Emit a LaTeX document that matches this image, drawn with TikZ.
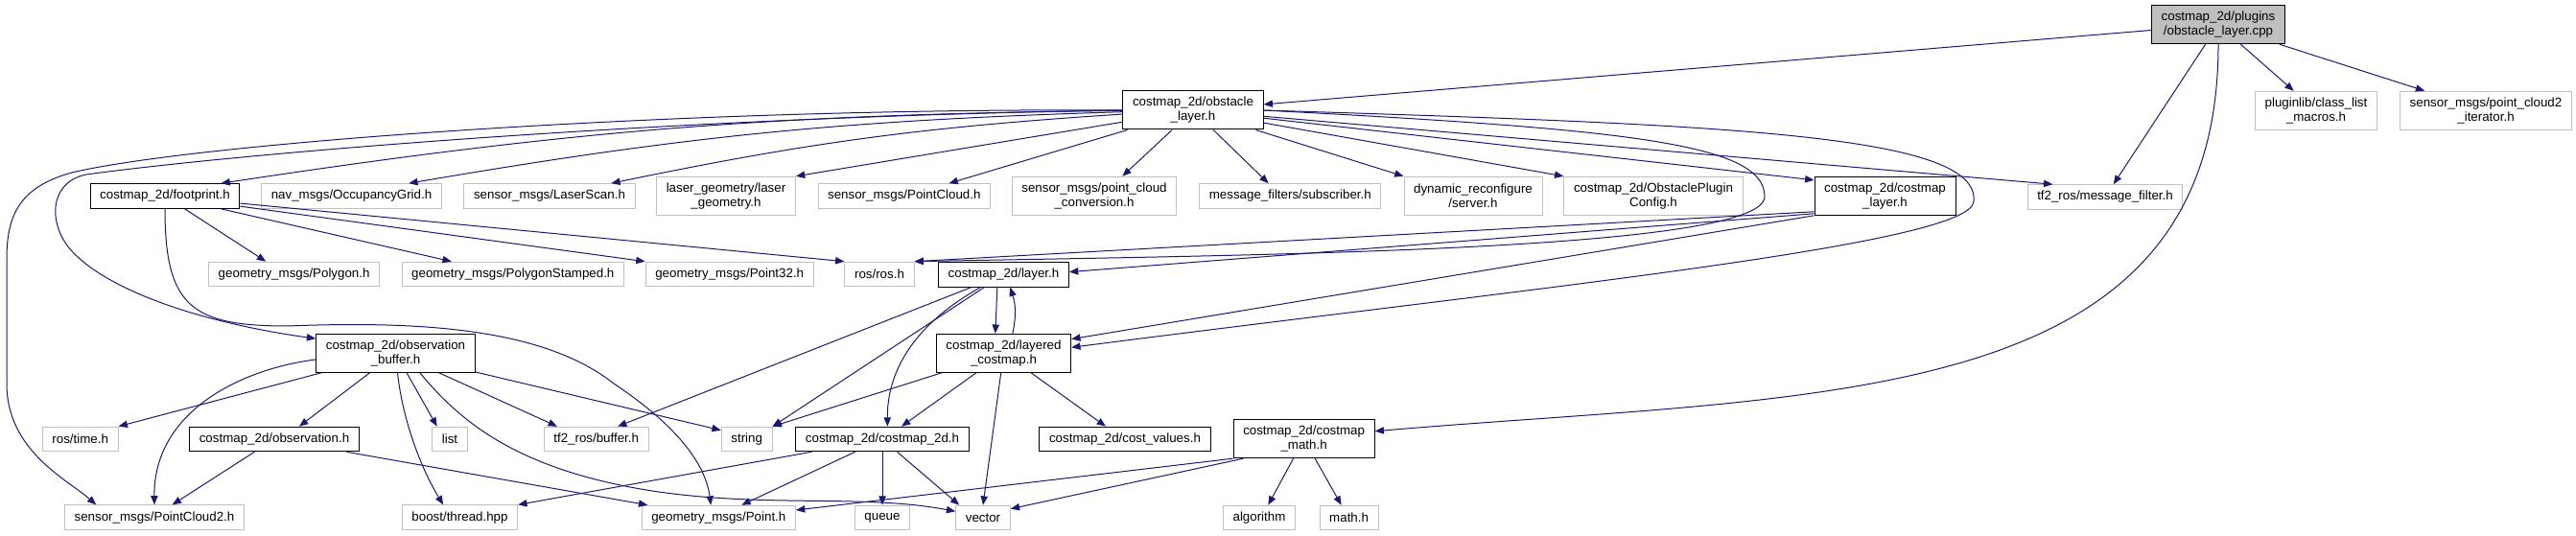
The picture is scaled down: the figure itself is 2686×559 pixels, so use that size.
\documentclass[tikz,border=0pt]{standalone}
\usepackage{fontspec}
\setmainfont{Liberation Sans}
\usetikzlibrary{arrows.meta}
\definecolor{grey75}{HTML}{BFBFBF}
\definecolor{midnight}{HTML}{191970}
\tikzset{
  filebox/.style={draw=black, line width=0.75pt, font=\fontsize{10}{11.25}\selectfont, align=center, inner xsep=7.6pt, inner ysep=0pt, minimum height=19.2pt},
  extbox/.style={filebox, draw=grey75},
  tall/.style={minimum height=30pt},
  rootbox/.style={filebox, fill=grey75},
  incl/.style={draw=midnight, line width=0.75pt, -{Triangle[length=7pt,width=5.5pt]}}
}
\begin{document}
\begin{tikzpicture}[x=0.75pt, y=-0.75pt]
    \useasboundingbox (0,0) rectangle (2686,559);
    % files, one row per rank
    \node[rootbox, tall] (root) at (2313,25.7) {costmap\_2d/plugins\\/obstacle\_layer.cpp};
    \node[filebox, tall] (obst) at (1244,115) {costmap\_2d/obstacle\\\_layer.h};
    \node[extbox, tall] (plugin) at (2415,115.3) {pluginlib/class\_list\\\_macros.h};
    \node[extbox, tall] (pcit) at (2592,115.3) {sensor\_msgs/point\_cloud2\\\_iterator.h};
    \node[filebox] (footprint) at (172,204.5) {costmap\_2d/footprint.h};
    \node[extbox] (occgrid) at (366.5,204.5) {nav\_msgs/OccupancyGrid.h};
    \node[extbox] (laserscan) at (573,204.5) {sensor\_msgs/LaserScan.h};
    \node[extbox, tall] (lasergeo) at (757,204.3) {laser\_geometry/laser\\\_geometry.h};
    \node[extbox] (pcloud) at (942.8,204.5) {sensor\_msgs/PointCloud.h};
    \node[extbox, tall] (pcconv) at (1141,204.3) {sensor\_msgs/point\_cloud\\\_conversion.h};
    \node[extbox] (subscr) at (1345.3,204.5) {message\_filters/subscriber.h};
    \node[extbox, tall] (server) at (1536,204.3) {dynamic\_reconfigure\\/server.h};
    \node[extbox, tall] (config) at (1724,204.3) {costmap\_2d/ObstaclePlugin\\Config.h};
    \node[filebox, tall] (cmlayer) at (1965.5,204.3) {costmap\_2d/costmap\\\_layer.h};
    \node[extbox] (msgfilt) at (2195,205.5) {tf2\_ros/message\_filter.h};
    \node[extbox] (polygon) at (306.6,286) {geometry\_msgs/Polygon.h};
    \node[extbox] (polystamp) at (534.8,286) {geometry\_msgs/PolygonStamped.h};
    \node[extbox] (point32) at (760.7,286) {geometry\_msgs/Point32.h};
    \node[extbox] (rosros) at (917,286) {ros/ros.h};
    \node[filebox] (layer) at (1046.5,286.3) {costmap\_2d/layer.h};
    \node[filebox, tall] (obsbuf) at (412.5,368.3) {costmap\_2d/observation\\\_buffer.h};
    \node[filebox, tall] (layered) at (1046.5,368.3) {costmap\_2d/layered\\\_costmap.h};
    \node[extbox] (rostime) at (83.7,458) {ros/time.h};
    \node[filebox] (observ) at (286,458) {costmap\_2d/observation.h};
    \node[extbox] (listh) at (469,458) {list};
    \node[extbox] (tfbuf) at (621.7,458) {tf2\_ros/buffer.h};
    \node[extbox] (stringh) at (778.7,458) {string};
    \node[filebox] (cm2d) at (920,458) {costmap\_2d/costmap\_2d.h};
    \node[filebox] (costval) at (1173,458) {costmap\_2d/cost\_values.h};
    \node[filebox, tall] (cmmath) at (1359.6,457.7) {costmap\_2d/costmap\\\_math.h};
    \node[extbox] (pc2) at (161,539.7) {sensor\_msgs/PointCloud2.h};
    \node[extbox] (thread) at (479.5,539.7) {boost/thread.hpp};
    \node[extbox] (point) at (749.3,540) {geometry\_msgs/Point.h};
    \node[extbox] (queue) at (920,540) {queue};
    \node[extbox] (vector) at (1025,540) {vector};
    \node[extbox] (algo) at (1313,540) {algorithm};
    \node[extbox] (mathh) at (1406.6,540) {math.h};
    % source file
    \draw[incl] (root) -- (obst);
    \draw[incl] (root) -- (msgfilt);
    \draw[incl] (root) -- (plugin);
    \draw[incl] (root) -- (pcit);
    \draw[incl] (root.south) .. controls (2313,430) and (1900,410) .. ([yshift=6pt]cmmath.east);
    % obstacle_layer.h
    \draw[incl] (obst) to[bend right=4] ([xshift=-15pt]footprint.north east);
    \draw[incl] (obst) to[bend right=4] ([xshift=-26pt]occgrid.north east);
    \draw[incl] (obst) to[bend right=4] ([xshift=-19pt]laserscan.north east);
    \draw[incl] (obst) -- (lasergeo.north east);
    \draw[incl] (obst) -- ([xshift=35pt]pcloud.north);
    \draw[incl] (obst) -- ([xshift=22pt]pcconv.north);
    \draw[incl] (obst) -- ([xshift=-17pt]subscr.north);
    \draw[incl] (obst) -- (server.north west);
    \draw[incl] (obst) -- (config.north west);
    \draw[incl] (obst) -- ([yshift=-3pt]cmlayer.north west);
    \draw[incl] (obst) -- ([xshift=-41pt]msgfilt.north);
    \draw[incl] (obst.east) .. controls (1700,135) and (1840,150) .. (1840,205) .. controls (1840,262) and (1300,266) .. (rosros.north east);
    \draw[incl] (obst.east) .. controls (1800,130) and (2065,140) .. (2058,210) .. controls (2056,255) and (1600,300) .. ([yshift=4.5pt]layered.east);
    \draw[incl] (obst.west) .. controls (700,122) and (250,160) .. (90,182) .. controls (50,190) and (50,235) .. (75,262) .. controls (110,300) and (200,335) .. ([yshift=-4pt]obsbuf.north west);
    \draw[incl] (obst.west) .. controls (700,112) and (200,150) .. (75,180) .. controls (20,195) and (7,225) .. (7,270) -- (7,400) .. controls (7,470) and (70,500) .. ([xshift=25pt]pc2.north west);
    % footprint.h
    \draw[incl] (footprint) -- ([xshift=-22pt]polygon.north);
    \draw[incl] (footprint) -- ([xshift=-48pt]polystamp.north);
    \draw[incl] (footprint) -- (point32.north west);
    \draw[incl] (footprint) -- (rosros.north west);
    \draw[incl] (footprint.south) .. controls (172,320) and (200,340) .. (300,340) .. controls (450,334) and (570,345) .. (640,400) .. controls (700,440) and (735,480) .. ([xshift=-6pt]point.north);
    % observation_buffer.h
    \draw[incl] (obsbuf) -- (rostime.north east);
    \draw[incl] ([yshift=-5pt]obsbuf.west) .. controls (250,385) and (160,430) .. (pc2.north);
    \draw[incl] (obsbuf) -- ([xshift=19.5pt]observ.north);
    \draw[incl] ([xshift=1.5pt]obsbuf.south) .. controls (420,440) and (440,490) .. ([xshift=-13pt]thread.north);
    \draw[incl] (obsbuf) -- ([xshift=-10pt]listh.north);
    \draw[incl] ([xshift=19pt]obsbuf.south) .. controls (480,440) and (540,490) .. (680,512) .. controls (800,530) and (900,515) .. ([yshift=5pt]vector.west);
    \draw[incl] (obsbuf) -- ([xshift=-30.5pt]tfbuf.north);
    \draw[incl] (obsbuf) -- ([yshift=-3pt]stringh.north west);
    % observation.h
    \draw[incl] (observ) -- ([xshift=14pt]pc2.north);
    \draw[incl] (observ) -- ([xshift=5pt]point.north west);
    % layer.h and layered_costmap.h
    \draw[incl] (layer) -- ([xshift=-24.5pt]tfbuf.north east);
    \draw[incl] (layer) -- (stringh.north east);
    \draw[incl] ([xshift=-18pt]layer.south) .. controls (950,340) and (925,390) .. ([xshift=4pt]cm2d.north);
    \draw[incl] ([xshift=-5pt]layer.south) -- ([xshift=-6.5pt]layered.north);
    \draw[incl] ([xshift=7pt]layered.north) to[bend right=15] ([xshift=5pt]layer.south);
    \draw[incl] (layered) -- (stringh.north east);
    \draw[incl] (layered) -- ([xshift=15pt]cm2d.north);
    \draw[incl] (layered) -- (vector.north);
    \draw[incl] (layered) -- ([xshift=-15pt]costval.north);
    % costmap_layer.h
    \draw[incl] ([yshift=3pt]cmlayer.south west) -- (rosros.north east);
    \draw[incl] ([yshift=1.5pt]cmlayer.south west) -- ([yshift=2pt]layer.east);
    \draw[incl] (cmlayer.south west) -- ([yshift=11pt]layered.east);
    % costmap_2d.h
    \draw[incl] (cm2d) -- (thread.north east);
    \draw[incl] (cm2d) -- ([xshift=18pt]point.north);
    \draw[incl] (cm2d) -- (queue);
    \draw[incl] (cm2d) -- ([xshift=3pt]vector.north west);
    % costmap_math.h
    \draw[incl] (cmmath.south west) -- ([yshift=6pt]point.east);
    \draw[incl] ([xshift=8pt]cmmath.south west) -- ([yshift=7pt]vector.east);
    \draw[incl] (cmmath) -- ([xshift=7pt]algo.north);
    \draw[incl] (cmmath) -- ([xshift=-6pt]mathh.north);
\end{tikzpicture}
\end{document}
